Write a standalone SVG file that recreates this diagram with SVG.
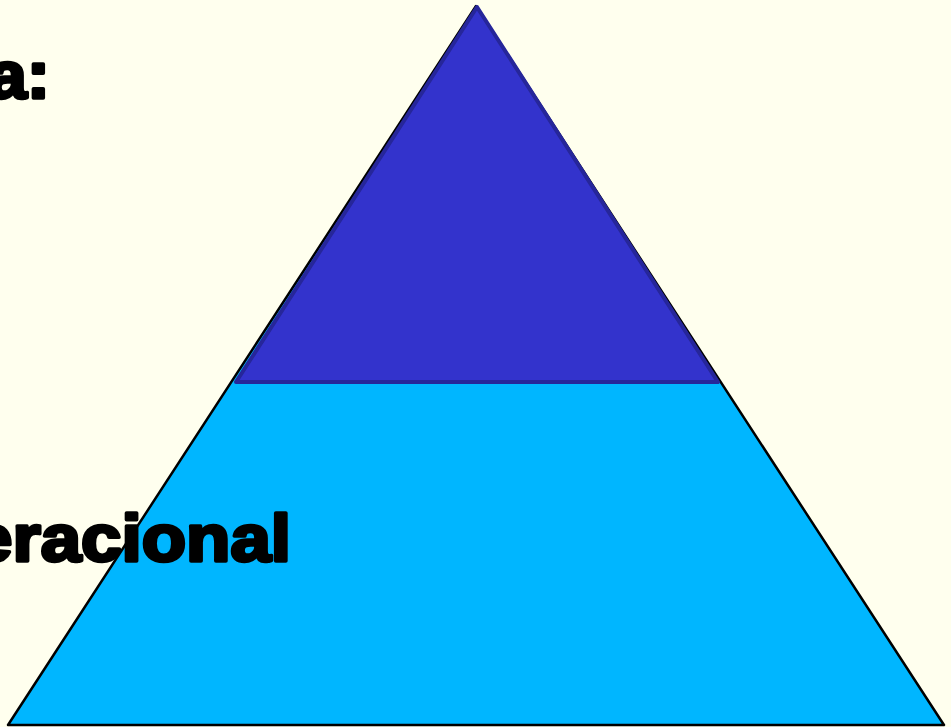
<svg xmlns="http://www.w3.org/2000/svg" width="951" height="727" viewBox="0 0 951 727">
  <style>
    .lbl { font-family: "Liberation Sans", Arial, sans-serif; font-weight: bold; font-size: 67px; fill: #000; stroke: #000; stroke-width: 3.5; stroke-linejoin: round; }
  </style>
  <rect x="0" y="0" width="951" height="727" fill="#FFFFEE"/>
  <g id="base-level">
    <polygon points="476,6 944,725 8,725" fill="#00B6FF" stroke="#000" stroke-width="2.5" stroke-linejoin="round"/>
  </g>
  <g id="top-level">
    <polygon points="477,7 718,382 236,382" fill="#3333CC" stroke="#26269A" stroke-width="4" stroke-linejoin="round"/>
  </g>
  <g id="labels">
    <text class="lbl" x="-12" y="98" textLength="62" lengthAdjust="spacingAndGlyphs">a:</text>
    <text class="lbl" x="-28" y="561" textLength="319" lengthAdjust="spacingAndGlyphs">eracional</text>
  </g>
</svg>
